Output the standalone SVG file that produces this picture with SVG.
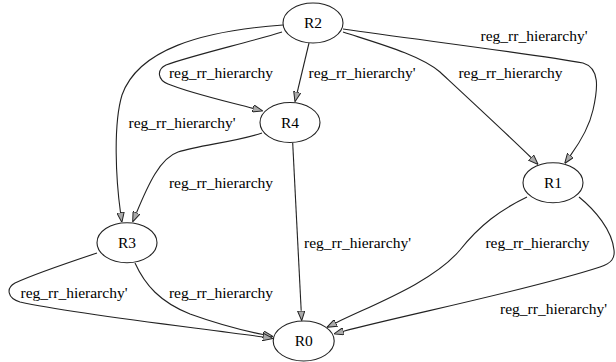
<svg xmlns="http://www.w3.org/2000/svg" width="616" height="362" viewBox="0 0 616 362">
<style>
.n ellipse{fill:#fff;stroke:#222;stroke-width:1.1}
.t{font-family:'Liberation Serif','Tinos','DejaVu Serif',serif;font-size:15.5px;fill:#000;text-anchor:middle}
.e path{fill:none;stroke:#222;stroke-width:1.1}
</style>
<defs>
<marker id="ah" viewBox="0 0 10 8" refX="0" refY="4" markerUnits="userSpaceOnUse" markerWidth="10" markerHeight="8" orient="auto">
<path d="M0,0.3 L10,4 L0,7.7 z" fill="#aaa" stroke="#222" stroke-width="1"/>
</marker>
</defs>
<rect width="616" height="362" fill="#fff"/>
<g id="edges" class="e">
<path marker-end="url(#ah)" d="M282,32 C250,42 190,56 166,65 C156,70 158,80 168,84 C190,93 225,101 253,108.4"/>
<path marker-end="url(#ah)" d="M283,25 C200,31 138,50 122,95 C113,125 116,180 120.5,212.5"/>
<path marker-end="url(#ah)" d="M262,133 C235,142 200,145 178,152 C160,158 148,185 136.5,212.7"/>
<path marker-end="url(#ah)" d="M309,43 L297.3,92"/>
<path marker-end="url(#ah)" d="M343,32 C380,44 420,55 440,72 C468,98 508,135 531,157.5"/>
<path marker-end="url(#ah)" d="M343,29 C420,40 540,55 583,63 C600,68 598,88 593,110 C589,128 578,145 570.5,155.4"/>
<path marker-end="url(#ah)" d="M292.7,143 L301.2,310.7"/>
<path marker-end="url(#ah)" d="M135,263 C145,285 160,302 190,314 C215,323 240,330 263,334.5"/>
<path marker-end="url(#ah)" d="M97,253 C70,262 30,276 15,283 C6,288 7,298 20,302 C80,315 200,328 263,337"/>
<path marker-end="url(#ah)" d="M527,197 C500,210 480,225 460,250 C432,283 372,305 335.8,322.9"/>
<path marker-end="url(#ah)" d="M579,197 C595,210 612,230 614,250 C615,258 612,263 600,267 C530,290 400,316 343.5,331.3"/>
<text class="t" x="221" y="78">reg_rr_hierarchy</text>
<text class="t" x="362" y="78">reg_rr_hierarchy'</text>
<text class="t" x="534" y="41">reg_rr_hierarchy'</text>
<text class="t" x="510.5" y="78">reg_rr_hierarchy</text>
<text class="t" x="182" y="127.5">reg_rr_hierarchy'</text>
<text class="t" x="221" y="188">reg_rr_hierarchy</text>
<text class="t" x="357.5" y="248">reg_rr_hierarchy'</text>
<text class="t" x="537.5" y="248">reg_rr_hierarchy</text>
<text class="t" x="553.5" y="314">reg_rr_hierarchy'</text>
<text class="t" x="74" y="297.5">reg_rr_hierarchy'</text>
<text class="t" x="221" y="297.5">reg_rr_hierarchy</text>
</g>
<g id="R2" class="n"><ellipse cx="313" cy="23" rx="30" ry="20"/><text class="t" x="313" y="28">R2</text></g>
<g id="R4" class="n"><ellipse cx="290" cy="122.5" rx="30" ry="20"/><text class="t" x="290" y="127.5">R4</text></g>
<g id="R1" class="n"><ellipse cx="553" cy="182.7" rx="30" ry="20"/><text class="t" x="553" y="187.7">R1</text></g>
<g id="R3" class="n"><ellipse cx="127" cy="242.7" rx="30" ry="20"/><text class="t" x="127" y="247.7">R3</text></g>
<g id="R0" class="n"><ellipse cx="303.7" cy="341" rx="30.5" ry="20"/><text class="t" x="303.7" y="346">R0</text></g>
</svg>
